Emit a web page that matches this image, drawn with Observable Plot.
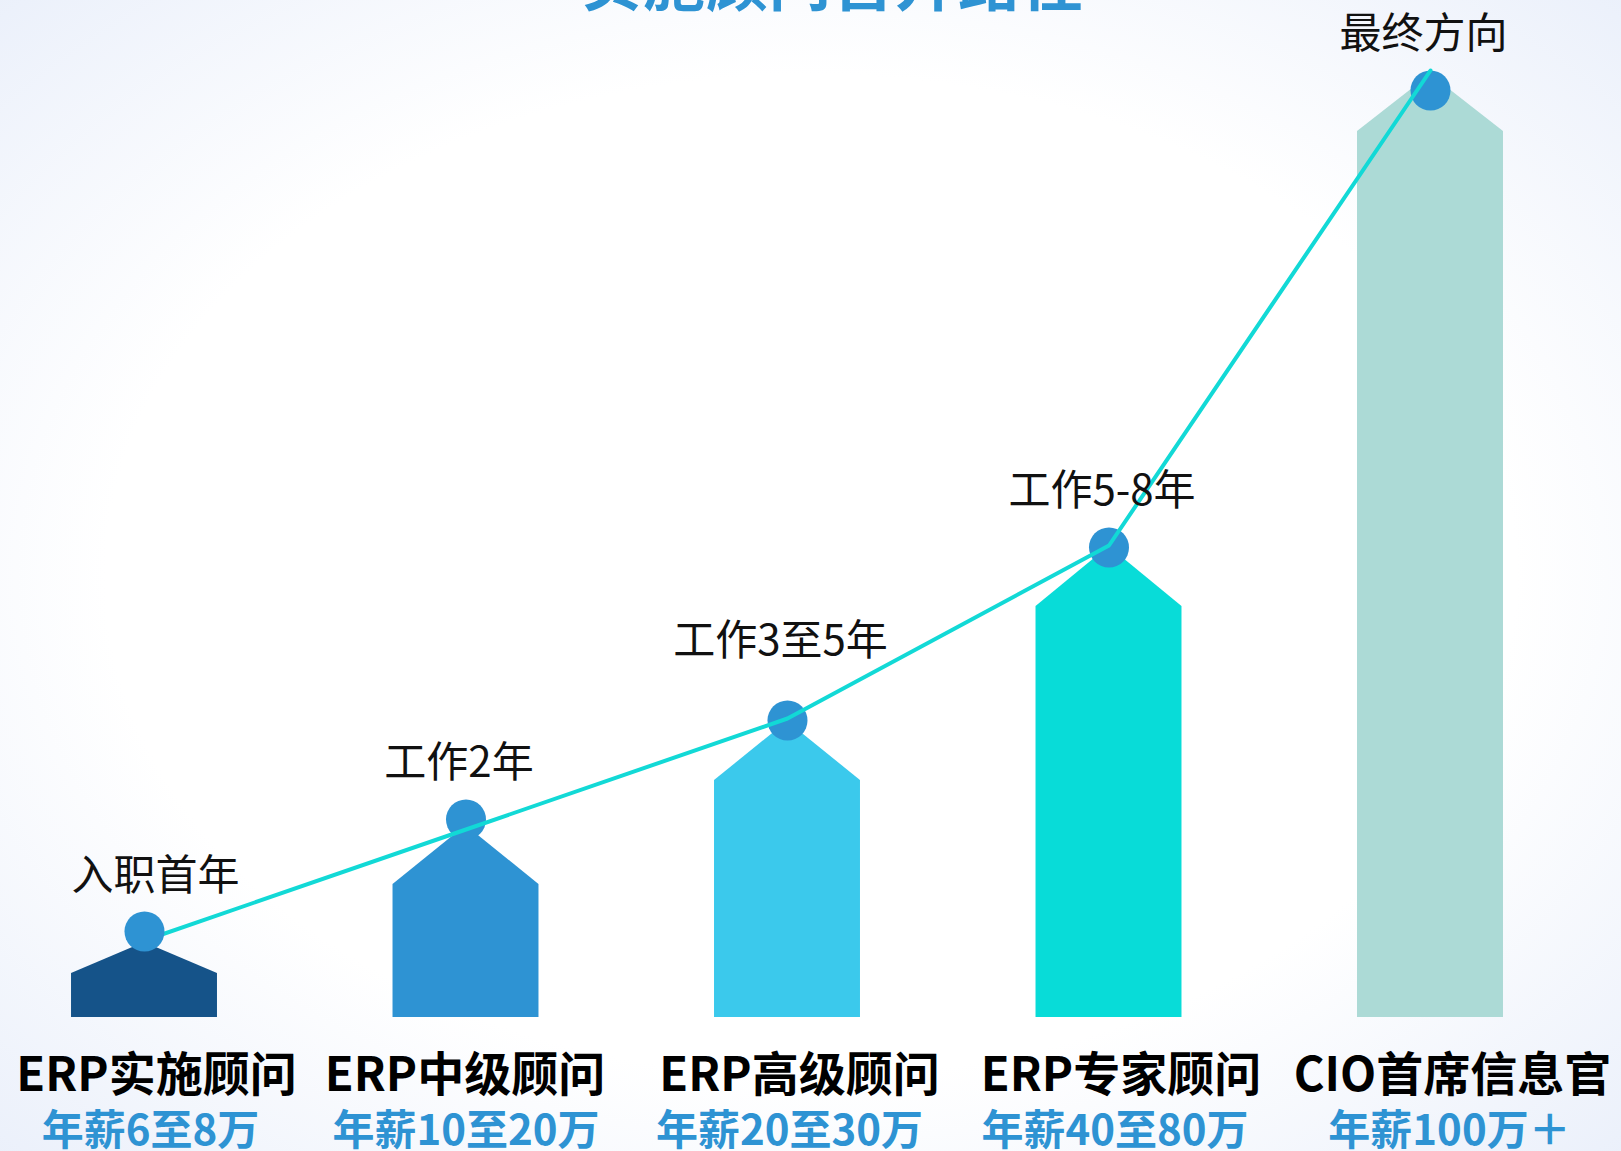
<!DOCTYPE html>
<html>
<head>
<meta charset="utf-8">
<script src="https://cdn.jsdelivr.net/npm/d3@7"></script>
<script src="https://cdn.jsdelivr.net/npm/@observablehq/plot@0.6"></script>
<style>
  html, body { margin: 0; padding: 0; overflow: hidden; }
  body {
    width: 1621px; height: 1151px; position: relative;
    background: radial-gradient(ellipse 75% 75% at 50% 50%, #ffffff 58%, #e8eefa 100%);
    font-family: "Noto Sans CJK SC", "Noto Sans", sans-serif;
  }
  #title {
    position: absolute; left: 0; width: 1664px; top: -52px;
    text-align: center; font-size: 62px; line-height: 1; font-weight: 700;
    color: #2e93d3; letter-spacing: 1px;
  }
  #chart { position: absolute; left: 0; top: 0; }
</style>
</head>
<body>
<div id="title">实施顾问晋升路径</div>
<div id="chart"></div>
<script>
// ---- data ----
const roles = ["ERP实施顾问", "ERP中级顾问", "ERP高级顾问", "ERP专家顾问", "CIO首席信息官"];
const salaries = ["年薪6至8万", "年薪10至20万", "年薪20至30万", "年薪40至80万", "年薪100万＋"];
const stages = ["入职首年", "工作2年", "工作3至5年", "工作5-8年", "最终方向"];
const shoulder = [4.4, 13.3, 23.7, 41.1, 88.6];   // bar body height
const peak = [7.5, 19.2, 29.6, 47.1, 94.3];       // bar roof tip
const dotLevel = [8.6, 19.8, 29.7, 47.0, 92.7];   // milestone dots
const lineLevel = [7.7, 18.8, 29.9, 47.2, 94.7];  // growth line
const barColors = ["#155389", "#2e93d3", "#3bc9ec", "#08dcd8", "#acdad6"];

// ---- styling constants ----
const halfW = 0.227;
const dotColor = "#2e93d3";
const lineColor = "#12d9d6";
const roleShift = [12, -1, 12, 12, 22];
const salaryShift = [6, 0, 2, 6, 19];

const idx = roles.map((_, i) => i);
const rows = idx.map(i => ({i, role: roles[i], salary: salaries[i], stage: stages[i],
  dot: dotLevel[i], line: lineLevel[i]}));

const barMarks = idx.map(i => Plot.areaY(
  [{x: i - halfW, y: shoulder[i]}, {x: i, y: peak[i]}, {x: i + halfW, y: shoulder[i]}],
  {x: "x", y1: 0, y2: "y", fill: barColors[i], curve: "linear"}
));

const stageText = {x: "i", y: "dot", text: "stage", fontSize: 42, fill: "#111"};

const roleMarks = idx.map(i => Plot.text([rows[i]], {x: "i", y: 0, text: "role", dy: 58,
  dx: roleShift[i], fontSize: 47, fontWeight: 700, fill: "#000", letterSpacing: -0.5}));
const salaryMarks = idx.map(i => Plot.text([rows[i]], {x: "i", y: 0, text: "salary", dy: 114,
  dx: salaryShift[i], fontSize: 42, fontWeight: 700, fill: "#2e93d3"}));

const chart = Plot.plot({
  width: 1621,
  height: 1151,
  margin: 0,
  style: {background: "transparent", fontFamily: "'Noto Sans CJK SC', sans-serif"},
  x: {domain: [0, 4], range: [144, 1430], axis: null},
  y: {domain: [0, 100], range: [1017, 17], axis: null},
  marks: [
    ...barMarks,
    Plot.dot(rows.filter(d => d.i > 0), {x: "i", y: "dot", r: 20, fill: dotColor}),
    Plot.line(rows, {x: "i", y: "line", stroke: lineColor, strokeWidth: 4, curve: "linear"}),
    Plot.dot(rows.filter(d => d.i === 0), {x: "i", y: "dot", r: 20, fill: dotColor}),
    Plot.text(rows.filter(d => d.i === 0), {...stageText, dy: -55, dx: 11}),
    Plot.text(rows.filter(d => d.i === 1 || d.i === 3 || d.i === 4), {...stageText, dy: -56, dx: -7}),
    Plot.text(rows.filter(d => d.i === 2), {...stageText, dy: -79, dx: -7}),
    ...roleMarks,
    ...salaryMarks
  ]
});
document.getElementById("chart").append(chart);
</script>
</body>
</html>
